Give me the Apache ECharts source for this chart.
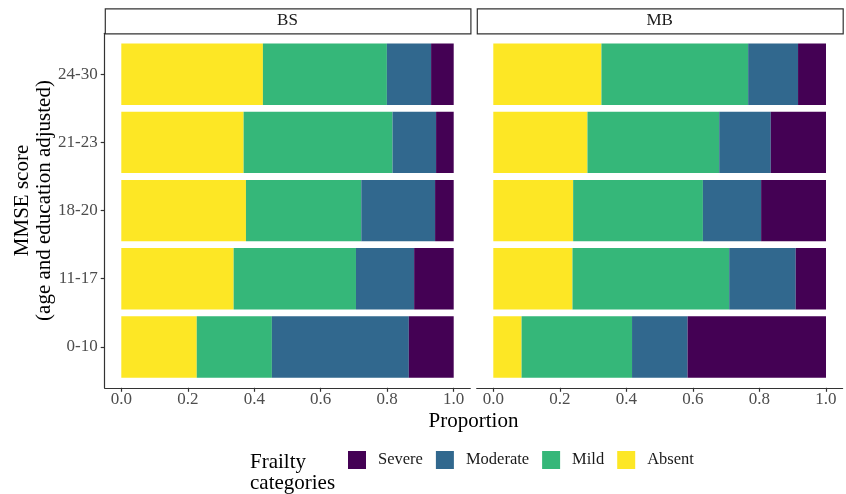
<!DOCTYPE html>
<html>
<head>
<meta charset="utf-8">
<script src="https://cdn.jsdelivr.net/npm/echarts@6/dist/echarts.min.js"></script>
<style>
html,body{margin:0;padding:0;background:#fff;}
#chart{width:846px;height:494px;}
</style>
</head>
<body>
<div id="chart"></div>
<script>
const categories = ['0-10', '11-17', '18-20', '21-23', '24-30'];
const panels = ['BS', 'MB'];
const frailtyLevels = ['Absent', 'Mild', 'Moderate', 'Severe'];
const legendOrder = ['Severe', 'Moderate', 'Mild', 'Absent'];
const xTicks = [0, 0.2, 0.4, 0.6, 0.8, 1.0];

const bsAbsent   = [0.227, 0.338, 0.375, 0.368, 0.426];
const bsMild     = [0.226, 0.368, 0.347, 0.448, 0.373];
const bsModerate = [0.412, 0.175, 0.222, 0.131, 0.133];
const bsSevere   = [0.135, 0.119, 0.056, 0.053, 0.068];

const mbAbsent   = [0.085, 0.238, 0.240, 0.283, 0.325];
const mbMild     = [0.332, 0.471, 0.390, 0.396, 0.441];
const mbModerate = [0.167, 0.200, 0.175, 0.155, 0.150];
const mbSevere   = [0.416, 0.091, 0.195, 0.166, 0.084];

const colors = {Absent: '#FDE725', Mild: '#35B779', Moderate: '#31688E', Severe: '#440154'};
const FONT = '"Liberation Serif", "DejaVu Serif", serif';

const panelData = [
  {Absent: bsAbsent, Mild: bsMild, Moderate: bsModerate, Severe: bsSevere},
  {Absent: mbAbsent, Mild: mbMild, Moderate: mbModerate, Severe: mbSevere}
];

// layout: data grids hold the bars, frame grids hold axis lines, ticks and labels
const dataGrids = [
  {left: 121.3, top: 40.1, width: 332.4, height: 341},
  {left: 493.3, top: 40.1, width: 332.7, height: 341}
];
const frameGrids = [
  {left: 104.7, top: 33.3, width: 365.6, height: 354.5},
  {left: 476.7, top: 33.3, width: 365.9, height: 354.5}
];
const catPositions = categories.map((c, i) => i + 1);

const chart = echarts.init(document.getElementById('chart'), null, {renderer: 'canvas'});

const grid = [...dataGrids, ...frameGrids];
const xAxis = [];
const yAxis = [];
panels.forEach((p, i) => {
  xAxis.push({gridIndex: i, type: 'value', min: 0, max: 1, show: false});
  yAxis.push({gridIndex: i, type: 'category', data: categories, show: false});
});
panels.forEach((p, i) => {
  xAxis.push({
    gridIndex: 2 + i, type: 'value', min: -0.05, max: 1.05, position: 'bottom',
    axisLine: {show: true, onZero: false, lineStyle: {color: '#333', width: 1.2}},
    axisTick: {show: true, length: 4, customValues: xTicks, lineStyle: {color: '#333', width: 1.2}},
    axisLabel: {show: true, customValues: xTicks, margin: 3, fontFamily: FONT, fontSize: 17, color: '#4D4D4D',
      formatter: v => v.toFixed(1)},
    splitLine: {show: false}
  });
  yAxis.push({
    gridIndex: 2 + i, type: 'value', min: 0.4, max: 5.6, position: 'left',
    axisLine: {show: i === 0, onZero: false, lineStyle: {color: '#333', width: 1.2}},
    axisTick: {show: i === 0, length: 4, customValues: catPositions, lineStyle: {color: '#333', width: 1.2}},
    axisLabel: {show: i === 0, customValues: catPositions, margin: 7, fontFamily: FONT, fontSize: 17, color: '#4D4D4D',
      formatter: v => categories[Math.round(v) - 1]},
    splitLine: {show: false}
  });
});

const series = [];
panels.forEach((p, i) => {
  frailtyLevels.forEach(level => {
    series.push({
      name: level, type: 'bar', stack: p,
      xAxisIndex: i, yAxisIndex: i,
      barCategoryGap: '10%',
      itemStyle: {color: colors[level]},
      data: panelData[i][level],
      emphasis: {disabled: true}
    });
  });
});

const graphic = [];
panels.forEach((p, i) => {
  const f = frameGrids[i];
  graphic.push({
    type: 'rect', left: f.left, top: 8.3,
    shape: {width: f.width, height: 25},
    style: {fill: '#fff', stroke: '#333', lineWidth: 1.2}
  });
  graphic.push({
    type: 'text', x: f.left + f.width / 2, y: 21,
    style: {text: p, font: '17px ' + FONT, fill: '#1A1A1A', textAlign: 'center', textVerticalAlign: 'middle'}
  });
});
graphic.push({
  type: 'text', x: 473.5, y: 421,
  style: {text: 'Proportion', font: '21px ' + FONT, fill: '#000', textAlign: 'center', textVerticalAlign: 'middle'}
});
graphic.push({
  type: 'text', x: 33.5, y: 200.5, rotation: Math.PI / 2,
  style: {text: 'MMSE score\n(age and education adjusted)', font: '21px ' + FONT, fill: '#000',
    textAlign: 'center', textVerticalAlign: 'middle', lineHeight: 22}
});
graphic.push({
  type: 'text', x: 250, y: 451.5,
  style: {text: 'Frailty\ncategories', font: '21px ' + FONT, fill: '#000',
    textAlign: 'left', textVerticalAlign: 'top', lineHeight: 21.5}
});

chart.setOption({
  animation: false,
  backgroundColor: '#fff',
  grid: grid,
  xAxis: xAxis,
  yAxis: yAxis,
  series: series,
  legend: {
    data: legendOrder, left: 348, top: 451, orient: 'horizontal', padding: 0,
    icon: 'rect', itemWidth: 18, itemHeight: 18, itemGap: 13,
    selectedMode: false,
    textStyle: {fontFamily: FONT, fontSize: 16.5, color: '#1A1A1A', padding: [3, 0, 0, 7]}
  },
  graphic: graphic
});
</script>
</body>
</html>
